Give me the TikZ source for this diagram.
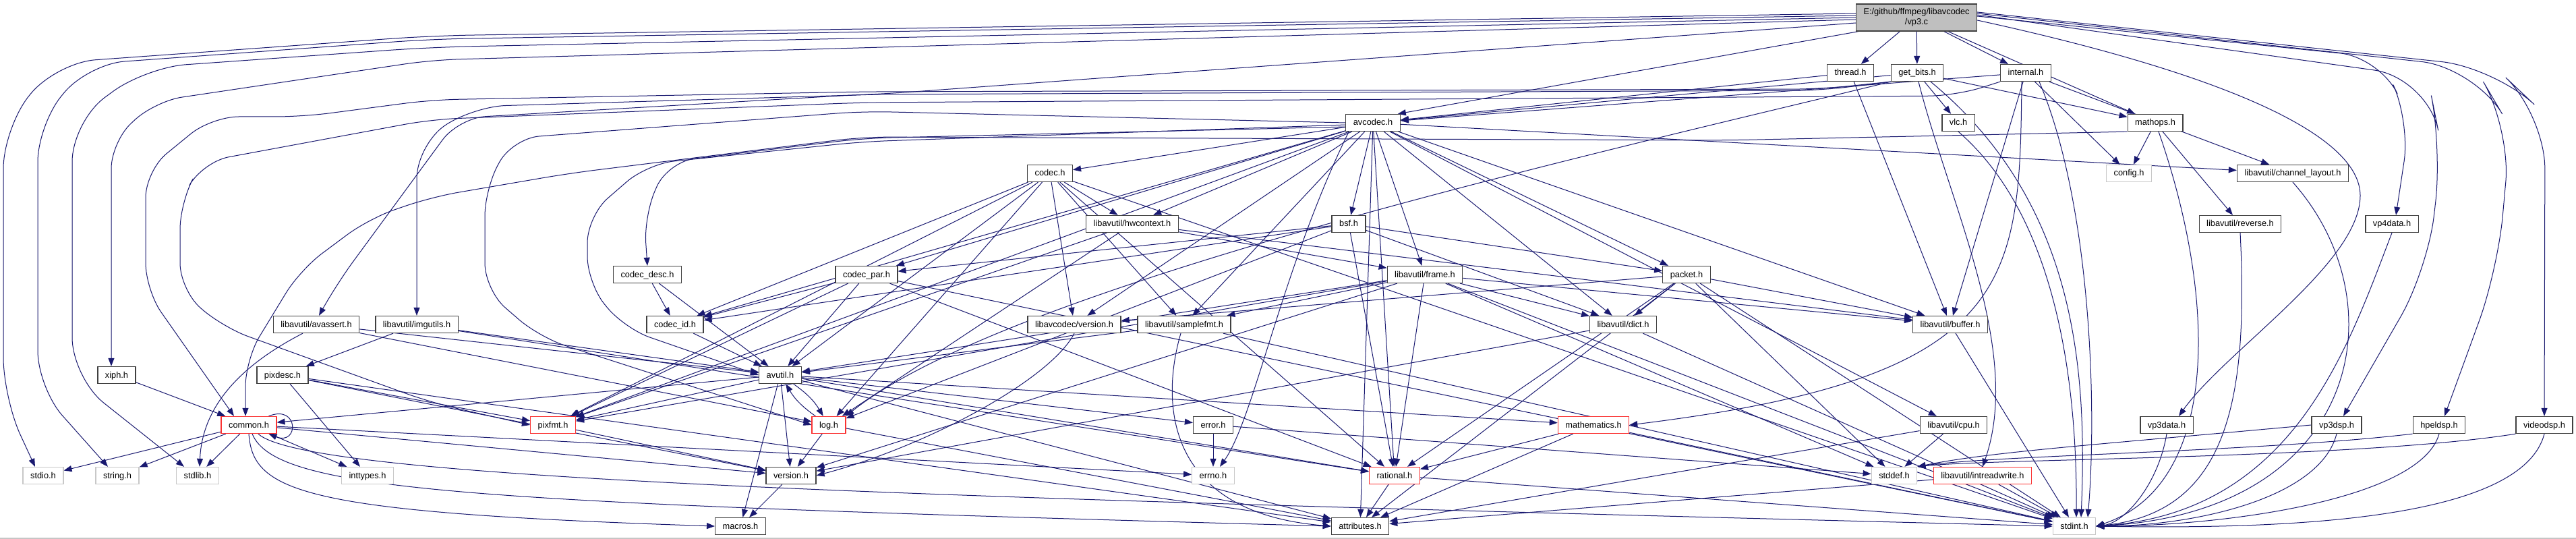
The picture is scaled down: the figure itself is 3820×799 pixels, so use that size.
\documentclass[tikz,border=0pt]{standalone}
\usepackage{fontspec}
\setmainfont{Liberation Sans}
\usetikzlibrary{arrows.meta,backgrounds}
\definecolor{edgec}{RGB}{25,25,112}
\definecolor{nodeb}{RGB}{64,64,64}
\definecolor{redb}{RGB}{250,50,50}
\definecolor{grayb}{RGB}{200,200,200}
\definecolor{rootf}{RGB}{191,191,191}
\newcommand\nodefont{\fontsize{12.8pt}{15pt}\selectfont}
\tikzset{
  nb/.style={draw=nodeb, line width=1.3pt, fill=white, font=\nodefont, inner xsep=11pt, inner ysep=0pt, minimum height=25pt, text height=10pt, text depth=2pt},
  nr/.style={nb, draw=redb},
  ng/.style={nb, draw=grayb},
  rootbox/.style={draw=nodeb, line width=1.3pt, fill=rootf, font=\nodefont, align=center, minimum width=179pt, minimum height=40pt, inner sep=2pt},
  ed/.style={draw=edgec, line width=1pt, -{Triangle[length=12pt,width=9pt]}}
}
\begin{document}
\begin{tikzpicture}[x=1pt,y=-1pt]
\useasboundingbox (0,0) rectangle (3820,799);
\begin{pgfonlayer}{background}
\fill[white] (0,0) rectangle (3820,799);
\end{pgfonlayer}
\draw[gray!45, line width=2pt] (0,798) -- (3820,798);
% nodes
\node[rootbox] (root) at (2842,26) {E:/github/ffmpeg/libavcodec\\/vp3.c};
\node[nb] (thread) at (2744,108) {thread.h};
\node[nb] (getbits) at (2843,108) {get\_bits.h};
\node[nb] (internal) at (3004,108) {internal.h};
\node[nb] (avcodec) at (2036,182) {avcodec.h};
\node[nb] (vlc) at (2904,182) {vlc.h};
\node[nb] (mathops) at (3196,182) {mathops.h};
\node[nb] (codec) at (1557,257) {codec.h};
\node[ng] (config) at (3157,257) {config.h};
\node[nb] (chlayout) at (3400,257) {libavutil/channel\_layout.h};
\node[nb] (hwctx) at (1679,332) {libavutil/hwcontext.h};
\node[nb] (bsf) at (2000,332) {bsf.h};
\node[nb] (reverse) at (3322,332) {libavutil/reverse.h};
\node[nb] (vp4data) at (3547,332) {vp4data.h};
\node[nb] (codecdesc) at (960,407) {codec\_desc.h};
\node[nb] (codecpar) at (1285,407) {codec\_par.h};
\node[nb] (frame) at (2113,407) {libavutil/frame.h};
\node[nb] (packet) at (2501,407) {packet.h};
\node[nb] (avassert) at (469,481) {libavutil/avassert.h};
\node[nb] (imgutils) at (618,481) {libavutil/imgutils.h};
\node[nb] (codecid) at (1001,481) {codec\_id.h};
\node[nb] (lavcver) at (1593,481) {libavcodec/version.h};
\node[nb] (samplefmt) at (1756,481) {libavutil/samplefmt.h};
\node[nb] (dict) at (2407,481) {libavutil/dict.h};
\node[nb] (buffer) at (2892,481) {libavutil/buffer.h};
\node[nb] (xiph) at (173,556) {xiph.h};
\node[nb] (pixdesc) at (419,556) {pixdesc.h};
\node[nb] (avutil) at (1157,556) {avutil.h};
\node[nr] (common) at (369,630) {common.h};
\node[nr] (pixfmt) at (820,630) {pixfmt.h};
\node[nr] (log) at (1229,630) {log.h};
\node[nb] (error) at (1799,630) {error.h};
\node[nr] (mathematics) at (2363,630) {mathematics.h};
\node[nb] (cpu) at (2897,630) {libavutil/cpu.h};
\node[nb] (vp3data) at (3213,630) {vp3data.h};
\node[nb] (vp3dsp) at (3465,630) {vp3dsp.h};
\node[nb] (hpeldsp) at (3617,630) {hpeldsp.h};
\node[nb] (videodsp) at (3773,630) {videodsp.h};
\node[ng] (stdio) at (64,705) {stdio.h};
\node[ng] (string) at (174,705) {string.h};
\node[ng] (stdlib) at (293,705) {stdlib.h};
\node[ng] (inttypes) at (545,705) {inttypes.h};
\node[nb] (version) at (1173,705) {version.h};
\node[ng] (errno) at (1799,705) {errno.h};
\node[nr] (rational) at (2068,705) {rational.h};
\node[ng] (stddef) at (2809,705) {stddef.h};
\node[nr] (intrw) at (2940,705) {libavutil/intreadwrite.h};
\node[nb] (macros) at (1098,780) {macros.h};
\node[nb] (attributes) at (2017,780) {attributes.h};
\node[ng] (stdint) at (3076,780) {stdint.h};
% edges
\begin{pgfonlayer}{background}
\foreach \a/\b in {root/thread, root/getbits, root/internal, root/mathops,
 thread/avcodec, thread/buffer, getbits/avcodec, getbits/mathops, getbits/vlc,
 internal/avcodec, internal/config, internal/buffer, internal/chlayout,
 mathops/reverse, mathops/config,
 avcodec/bsf, avcodec/codec, avcodec/hwctx, avcodec/codecpar, avcodec/codecid, avcodec/frame, avcodec/packet, avcodec/dict, avcodec/buffer, avcodec/cpu, avcodec/chlayout, avcodec/samplefmt, avcodec/attributes, avcodec/pixfmt, avcodec/rational, avcodec/lavcver,
 codec/hwctx, codec/codecid, codec/avutil, codec/log, codec/pixfmt, codec/rational, codec/samplefmt, codec/lavcver, codec/stdint,
 hwctx/buffer, hwctx/frame, hwctx/log, hwctx/pixfmt,
 bsf/dict, bsf/log, bsf/rational, bsf/codecid, bsf/codecpar, bsf/packet,
 codecdesc/avutil, codecdesc/codecid,
 codecpar/stdint, codecpar/avutil, codecpar/rational, codecpar/pixfmt, codecpar/codecid,
 frame/stddef, frame/stdint, frame/avutil, frame/buffer, frame/dict, frame/rational, frame/samplefmt, frame/pixfmt, frame/version,
 packet/stddef, packet/stdint, packet/attributes, packet/buffer, packet/dict, packet/rational, packet/lavcver,
 avassert/avutil, avassert/log, imgutils/avutil, imgutils/pixdesc, imgutils/rational,
 codecid/avutil, samplefmt/stdint, samplefmt/avutil, dict/stdint, dict/version, buffer/stdint,
 xiph/common, pixdesc/inttypes, pixdesc/attributes, pixdesc/pixfmt, pixdesc/version,
 avutil/common, avutil/error, avutil/rational, avutil/version, avutil/macros, avutil/mathematics, avutil/pixfmt, avutil/attributes,
 common/inttypes, common/stdio, common/stdlib, common/string, common/errno, common/version,
 pixfmt/version, log/version, log/attributes, error/errno, error/stddef,
 mathematics/stdint, mathematics/attributes, mathematics/rational,
 cpu/stddef, cpu/attributes, version/macros, rational/attributes, rational/stdint,
 intrw/attributes, intrw/stdint}
 \draw[ed] (\a) -- (\b);
% long routes from vp3.c
\draw[ed, rounded corners=60pt] ([yshift=6pt]root.west) -- (640,53) -- (82,93) -- (5,190) -- (5,590) -- ([xshift=-12pt]stdio.north);
\draw[ed, rounded corners=55pt] ([yshift=3pt]root.west) -- (640,58) -- (130,95) -- (56,185) -- (56,575) -- ([xshift=-14pt]string.north);
\draw[ed, rounded corners=60pt] (root.west) -- (640,70) -- (216,100) -- (107,180) -- (107,560) -- ([xshift=-20pt]stdlib.north);
\draw[ed, rounded corners=40pt] ([yshift=-3pt]root.west) -- (640,89) -- (230,150) -- (165,210) -- ([xshift=-8pt]xiph.north);
\draw[ed, rounded corners=50pt] ([yshift=-8pt]root.west) -- (1300,140) -- (700,158) -- (618,215) -- (imgutils.north);
\draw[ed] ([xshift=4pt]root.south west) -- ([xshift=-4pt]avcodec.north east);
\draw[ed, rounded corners=60pt] ([yshift=2pt]root.east) -- (3530,85) -- (3574,180) -- ([xshift=6pt]vp4data.north);
\draw[ed] ([yshift=-4pt]root.east) .. controls (3300,110) and (3500,200) .. (3500,290) .. controls (3500,390) and (3300,520) .. ([xshift=18pt]vp3data.north);
\draw[ed, rounded corners=80pt] ([yshift=4pt]root.east) -- (3600,115) -- (3621,220) -- (3600,400) -- ([xshift=10pt]vp3dsp.north);
\draw[ed, rounded corners=80pt] ([yshift=6pt]root.east) -- (3670,100) -- (3723,190) -- (3704,400) -- ([xshift=8pt]hpeldsp.north);
\draw[ed, rounded corners=80pt] ([yshift=8pt]root.east) -- (3700,100) -- (3774,170) -- (videodsp.north);
% get_bits.h
\draw[ed, rounded corners=40pt] (getbits.south west) -- (2700,132) -- (1280,136) -- (640,148) -- (449,173) -- (314,173) -- (216,253) -- (216,430) -- ([xshift=-22pt]common.north);
\draw[ed, rounded corners=40pt] (getbits.south west) -- (2700,134) -- (1280,140) -- (680,175) -- (500,420) -- ([xshift=4pt]avassert.north);
\draw[ed] (getbits.south west) .. controls (2400,220) and (1500,420) .. (log.north east);
\draw[ed] ([xshift=2pt]getbits.south) .. controls (2890,300) and (3000,520) .. (intrw.north);
\draw[ed] ([xshift=20pt]getbits.south) .. controls (3080,300) and (3095,550) .. ([xshift=10pt]stdint.north);
% internal.h
\draw[ed, rounded corners=40pt] (internal.south west) -- (2900,142) -- (1280,152) -- (640,177) -- (300,240) -- (267,300) -- (267,430) -- (330,485) -- (640,597) -- (pixfmt.west);
\draw[ed] ([xshift=-6pt]internal.south) .. controls (2995,420) and (2990,560) .. (mathematics.east);
\draw[ed] ([xshift=20pt]internal.south) .. controls (3100,300) and (3110,600) .. ([xshift=20pt]stdint.north);
% mathops.h, vlc.h
\draw[ed, rounded corners=40pt] (mathops.south west) -- (2560,208) -- (1280,203) -- (844,257) -- (640,292) -- (547,324) -- (445,400) -- (364,533) -- ([xshift=-5pt]common.north);
\draw[ed] ([xshift=5pt]mathops.south) .. controls (3290,450) and (3290,720) .. (stdint.east);
\draw[ed] (vlc.south) .. controls (3060,330) and (3080,600) .. ([xshift=3pt]stdint.north);
% right-hand headers to stdint / stddef
\draw[ed] (chlayout.south) .. controls (3560,450) and (3500,760) .. (stdint.east);
\draw[ed] (reverse.south) .. controls (3335,600) and (3300,760) .. (stdint.east);
\draw[ed] (vp4data.south) .. controls (3480,520) and (3400,760) .. (stdint.east);
\draw[ed] (vp3data.south) .. controls (3200,720) and (3150,775) .. (stdint.east);
\draw[ed] (vp3dsp.south) .. controls (3440,740) and (3250,780) .. (stdint.east);
\draw[ed] (hpeldsp.south) .. controls (3590,740) and (3300,780) .. (stdint.east);
\draw[ed] (videodsp.south) .. controls (3740,770) and (3400,785) .. (stdint.east);
\draw[ed] (vp3dsp.west) .. controls (3100,660) and (2950,670) .. (stddef.north east);
\draw[ed] (hpeldsp.south west) .. controls (3350,670) and (2950,675) .. (stddef.north east);
\draw[ed] (videodsp.south west) .. controls (3500,680) and (2950,680) .. (stddef.north east);
% avcodec.h routes
\draw[ed] ([xshift=5pt]avcodec.south west) .. controls (1900,400) and (1860,620) .. ([xshift=10pt]errno.north);
\draw[ed, rounded corners=40pt] (avcodec.west) -- (1280,165) -- (760,205) -- (719,280) -- (719,430) -- (800,500) -- (log.west);
\draw[ed, rounded corners=40pt] ([yshift=-3pt]avcodec.west) -- (1280,210) -- (960,243) -- (871,320) -- (871,420) -- (926,487) -- (avutil.west);
\draw[ed, rounded corners=40pt] ([yshift=-6pt]avcodec.west) -- (1280,205) -- (990,240) -- (955,320) -- (codecdesc.north);
% misc curves
\draw[ed] (lavcver.south) .. controls (1560,560) and (1380,660) .. (version.east);
\draw[ed] ([xshift=-5pt]samplefmt.south) .. controls (1720,600) and (1730,760) .. (attributes.west);
\draw[ed] ([xshift=-20pt]avassert.south) .. controls (360,540) and (300,600) .. ([xshift=3pt]stdlib.north);
\draw[ed] (avutil) to[bend left=12] (log);
\draw[ed] (log) to[bend left=12] (avutil);
\draw[ed] ([xshift=-12pt]common.north east) .. controls +(45,-18) and +(45,18) .. ([xshift=-12pt]common.south east);
\draw[ed] (common.south) .. controls (375,730) and (450,760) .. (macros.west);
\draw[ed] ([xshift=5pt]common.south) .. controls (410,730) and (700,745) .. (attributes.west);
\draw[ed] ([xshift=14pt]common.south) .. controls (460,715) and (1500,740) .. (stdint.west);
\end{pgfonlayer}
\end{tikzpicture}
\end{document}
